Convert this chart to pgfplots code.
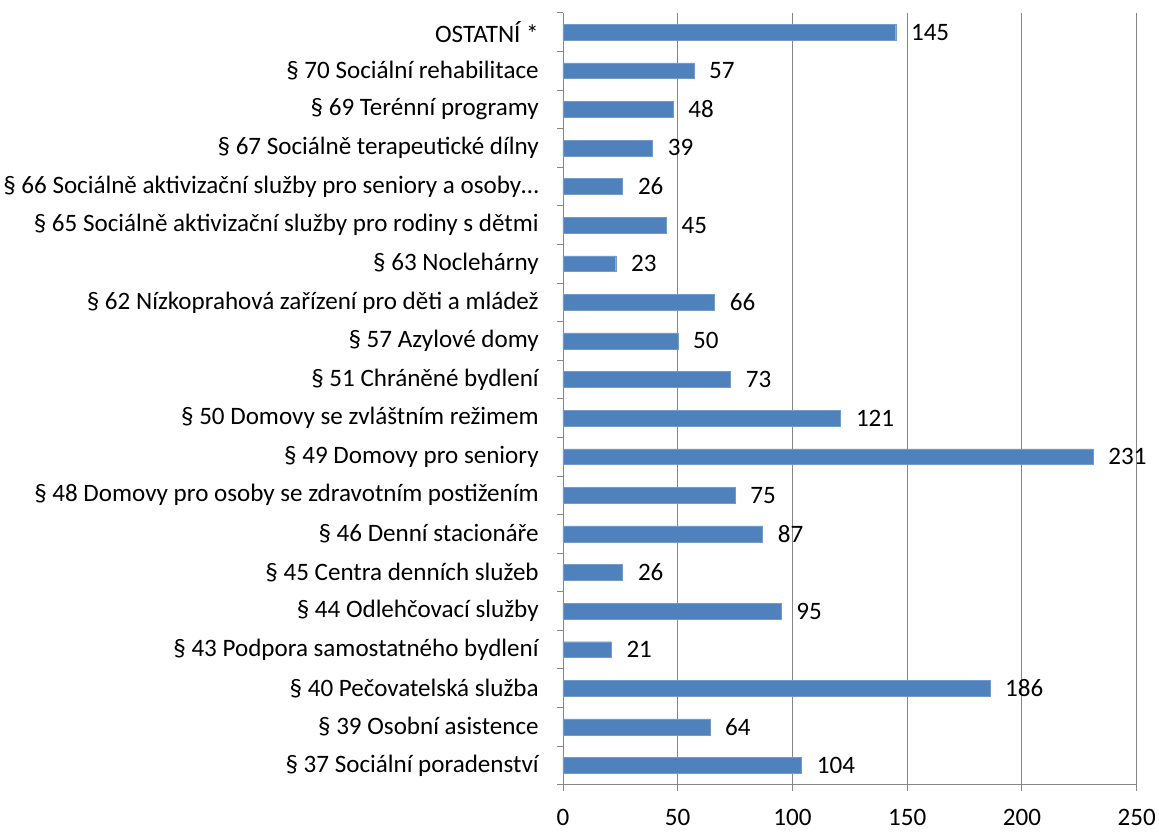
\documentclass[border=0pt]{standalone}
\usepackage{pgfplots}
\pgfplotsset{compat=1.18}
\usepackage{fontspec}
\setmainfont{Carlito}
\definecolor{barblue}{RGB}{79,129,189}
\definecolor{gridgray}{RGB}{134,134,134}
\begin{document}
\begin{tikzpicture}[font=\fontsize{25.3bp}{30bp}\selectfont]
\begin{axis}[
  scale only axis,
  width=579bp, height=779bp,
  xbar, bar width=16bp,
  xmin=0, xmax=250,
  ymin=-0.5, ymax=19.5,
  xtick={0,50,100,150,200,250},
  xmajorgrids, grid style={gridgray, line width=0.9bp},
  axis lines*=left,
  axis line style={gridgray, line width=0.9bp},
  tick style={gridgray, line width=0.9bp},
  tick align=outside,
  major tick length=6bp,
  ytick={0,1,2,3,4,5,6,7,8,9,10,11,12,13,14,15,16,17,18,19},
  y tick style={draw=none},
  minor ytick={-0.5,0.5,1.5,2.5,3.5,4.5,5.5,6.5,7.5,8.5,9.5,10.5,11.5,12.5,13.5,14.5,15.5,16.5,17.5,18.5,19.5},
  minor y tick style={draw=gridgray},
  minor tick length=6bp,
  yticklabels={
    {§ 37 Sociální poradenství},
    {§ 39 Osobní asistence},
    {§ 40 Pečovatelská služba},
    {§ 43 Podpora samostatného bydlení},
    {§ 44 Odlehčovací služby},
    {§ 45 Centra denních služeb},
    {§ 46 Denní stacionáře},
    {§ 48 Domovy pro osoby se zdravotním postižením},
    {§ 49 Domovy pro seniory},
    {§ 50 Domovy se zvláštním režimem},
    {§ 51 Chráněné bydlení},
    {§ 57 Azylové domy},
    {§ 62 Nízkoprahová zařízení pro děti a mládež},
    {§ 63 Noclehárny},
    {§ 65 Sociálně aktivizační služby pro rodiny s dětmi},
    {§ 66 Sociálně aktivizační služby pro seniory a osoby…},
    {§ 67 Sociálně terapeutické dílny},
    {§ 69 Terénní programy},
    {§ 70 Sociální rehabilitace},
    {OSTATNÍ *}},
  yticklabel style={xshift=-15bp, text=black},
  xticklabel style={yshift=-15bp, text=black},
  /pgf/number format/assume math mode=true,
  nodes near coords,
  nodes near coords style={anchor=west, xshift=12bp, text=black},
  every node near coord/.append style={font=\fontsize{25.3bp}{30bp}\selectfont},
]
\addplot[fill=barblue, draw=barblue!80!white] coordinates {
 (104,0) (64,1) (186,2) (21,3) (95,4) (26,5) (87,6) (75,7) (231,8) (121,9)
 (73,10) (50,11) (66,12) (23,13) (45,14) (26,15) (39,16) (48,17) (57,18) (145,19)
};
\end{axis}
\path (current axis.north west) ++(0,13bp);
\path (current axis.south west) ++(-567bp,-47bp);
\end{tikzpicture}
\end{document}
